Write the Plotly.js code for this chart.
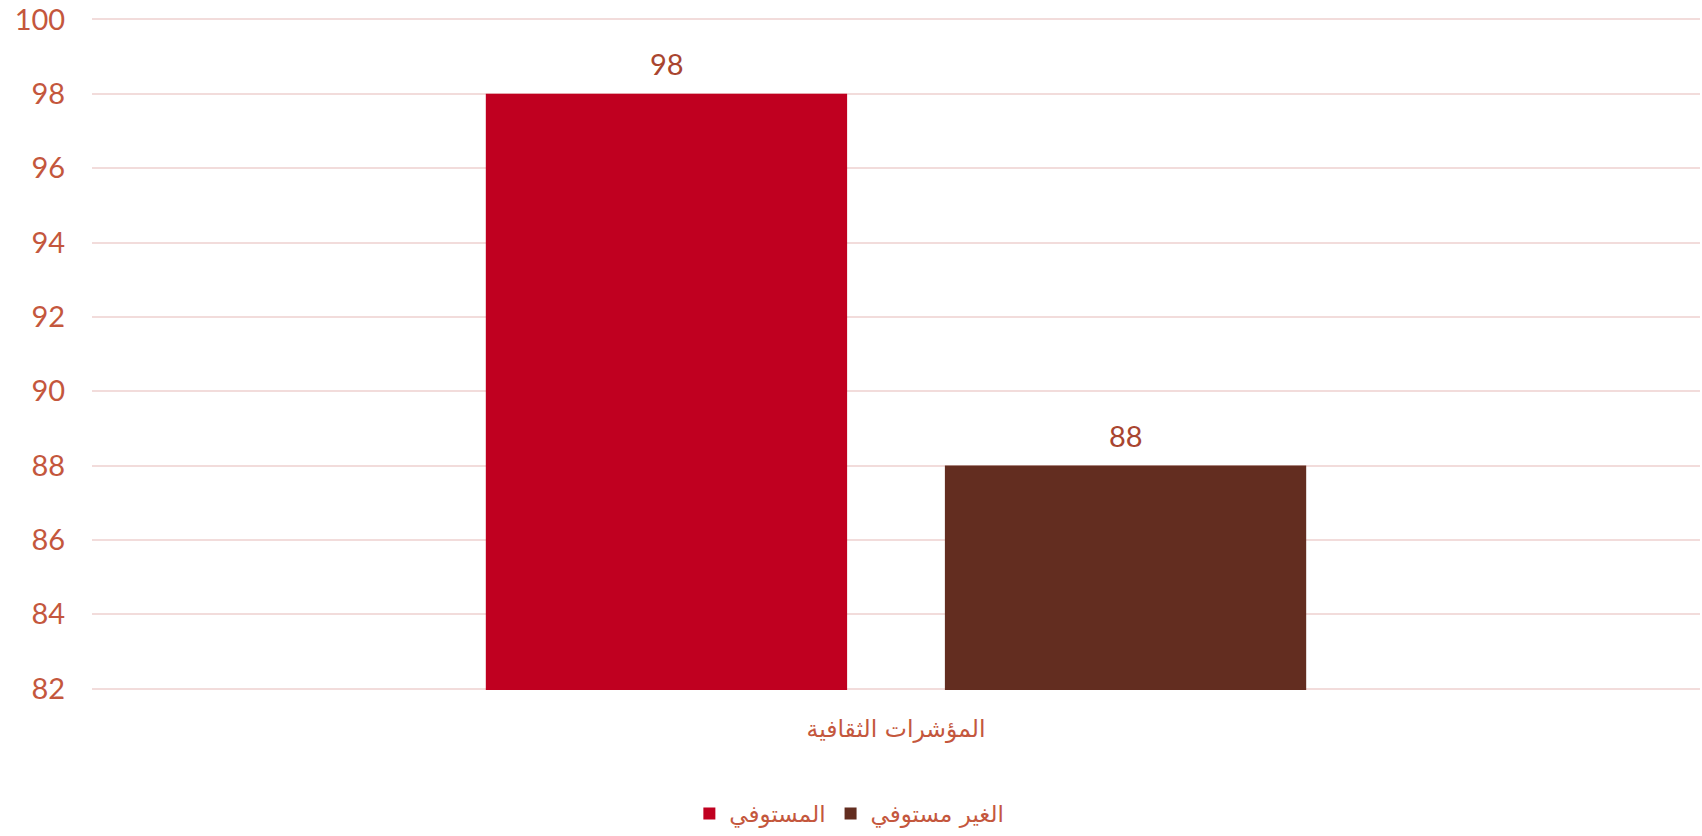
<!DOCTYPE html>
<html>
<head>
<meta charset="utf-8">
<script src="https://cdn.plot.ly/plotly-3.0.1.min.js"></script>
<style>html,body{margin:0;padding:0;background:#fff;}#chart{width:1702px;height:836px;}</style>
</head>
<body>
<div id="chart"></div>
<script>
const categories = ["المؤشرات الثقافية"];
const seriesNames = ["المستوفي", "الغير مستوفي"];
const seriesValues = [[98], [88]];
const seriesColors = ["#C00020", "#632D20"];
const yTicks = [82, 84, 86, 88, 90, 92, 94, 96, 98, 100];

const tickColor = "#C4573D";
const labelColor = "#A9452F";
const fontFam = "Lato, 'DejaVu Sans', sans-serif";

const traces = seriesNames.map((name, i) => ({
  type: "bar",
  name: name,
  x: categories,
  y: seriesValues[i],
  marker: {color: seriesColors[i]},
  hoverinfo: "none"
}));

const annotations = [];
seriesValues.forEach((vals, i) => {
  vals.forEach((v, j) => {
    annotations.push({
      x: categories[j], y: v, xref: "x", yref: "y",
      text: String(v), showarrow: false,
      xshift: (i === 0 ? -229.5 : 229.5), yshift: 30,
      font: {family: fontFam, size: 29, color: labelColor}
    });
  });
});

const layout = {
  width: 1702, height: 836,
  margin: {l: 92, r: 2, t: 18, b: 145},
  paper_bgcolor: "#fff", plot_bgcolor: "#fff",
  barmode: "group", bargap: 0.429, bargroupgap: 0.213,
  showlegend: true,
  legend: {orientation: "h", x: 0.471, xanchor: "center", y: -0.182, yanchor: "middle",
           font: {family: "'DejaVu Sans', sans-serif", size: 23, color: tickColor},
           itemwidth: 30, traceorder: "normal"},
  xaxis: {type: "category", showgrid: false, zeroline: false, showline: false,
          ticks: "outside", ticklen: 18, tickcolor: "rgba(0,0,0,0)",
          tickfont: {family: "'DejaVu Sans', sans-serif", size: 23.5, color: tickColor}},
  yaxis: {range: [81.96, 100.04], tickvals: yTicks, ticktext: yTicks.map(String),
          ticklabeloverflow: "allow",
          showgrid: true, gridcolor: "#F2DCDB", gridwidth: 2, zeroline: false, showline: false,
          ticks: "outside", ticklen: 20, tickcolor: "rgba(0,0,0,0)",
          tickfont: {family: fontFam, size: 29, color: tickColor}},
  annotations: annotations
};

Plotly.newPlot("chart", traces, layout, {displayModeBar: false, staticPlot: true});
</script>
</body>
</html>
